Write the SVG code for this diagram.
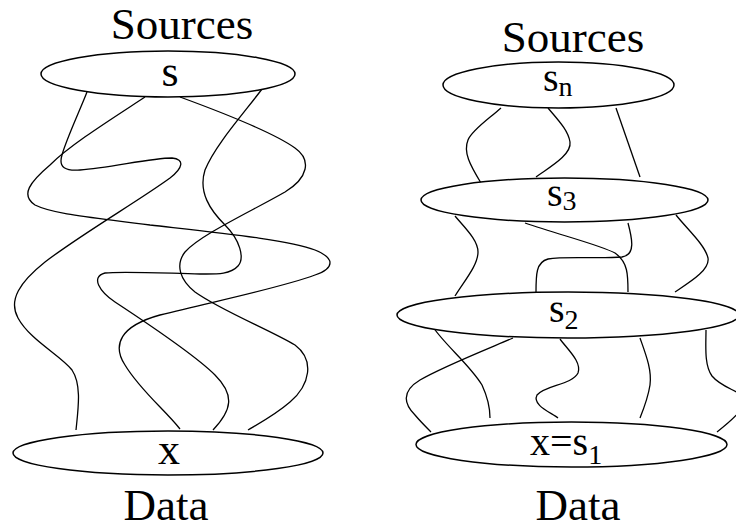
<svg xmlns="http://www.w3.org/2000/svg" width="736" height="527" viewBox="0 0 736 527">
<style>
.node{fill:#fff;stroke:#000;stroke-width:1.5}
.wire{fill:none;stroke:#000;stroke-width:1.3}
.t{font-family:"Liberation Serif","Times New Roman",serif;fill:#000}
.big{font-size:45px}
.lab{font-size:44px}
.rl{font-size:40px}
.sub{font-size:28px}
</style>
<rect width="736" height="527" fill="#fff"/>
<g id="connectors">
<path class="wire" d="M87,92 C80,110 66,140 62,155 C58,168 66,171 80,170 C110,168 150,158 172,158 C185,159 183,168 170,178 C140,200 80,235 45,262 C20,282 8,300 18,318 C30,340 60,355 72,370 C82,385 78,410 76,430"/>
<path class="wire" d="M145,97 C110,120 70,145 50,165 C30,182 20,195 35,205 C55,215 100,218 150,225 C220,233 290,240 315,250 C335,258 335,268 315,275 C280,288 220,300 160,315 C120,326 112,345 125,365 C140,390 165,410 180,429"/>
<path class="wire" d="M180,97 C210,108 270,130 295,148 C312,160 308,178 285,192 C250,212 200,235 185,252 C175,265 180,280 195,292 C220,310 270,330 295,345 C315,360 310,385 290,402 C275,415 258,424 248,430"/>
<path class="wire" d="M262,89 C245,112 215,145 205,170 C198,192 210,210 225,225 C240,240 245,258 238,266 C230,275 215,274 200,274 C160,273 120,271 105,273 C90,277 100,292 115,302 C150,325 195,355 215,375 C235,395 232,410 213,430"/>
<path class="wire" d="M501,108 C490,118 472,130 468,140 C463,152 470,165 481,183"/>
<path class="wire" d="M548,108 C558,120 568,130 570,142 C572,155 548,168 536,177"/>
<path class="wire" d="M616,108 L640,177"/>
<path class="wire" d="M455,216 C465,228 478,240 478,252 C478,265 465,280 455,296"/>
<path class="wire" d="M525,223 C560,235 600,245 615,253 C628,262 628,275 628,292"/>
<path class="wire" d="M628,223 C632,238 636,255 622,257 C600,259 565,256 548,259 C536,262 536,275 536,292"/>
<path class="wire" d="M676,215 C688,230 705,245 708,258 C710,270 690,282 675,292"/>
<path class="wire" d="M433,327 C445,345 470,365 482,385 C488,398 490,410 490,418"/>
<path class="wire" d="M513,338 C480,352 440,368 420,380 C400,392 405,405 415,415 C420,421 427,428 431,432"/>
<path class="wire" d="M560,339 C568,350 582,362 578,373 C572,385 545,385 537,395 C532,405 550,412 558,418"/>
<path class="wire" d="M640,338 C646,355 652,370 650,385 C648,398 644,408 640,418"/>
<path class="wire" d="M706,330 C706,345 704,365 712,376 C722,388 738,390 745,398 C748,405 735,418 717,432"/>
</g>
<g id="title-left"><text class="t big" x="182" y="39" text-anchor="middle">Sources</text></g>
<g id="node-s"><ellipse class="node" cx="168" cy="74" rx="127" ry="23"/><text class="t lab" x="170" y="86" text-anchor="middle">s</text></g>
<g id="node-x"><ellipse class="node" cx="168" cy="453" rx="155" ry="22"/><text class="t lab" x="169" y="464" text-anchor="middle">x</text></g>
<g id="label-data-left"><text class="t big" x="166" y="520" text-anchor="middle">Data</text></g>
<g id="title-right"><text class="t big" x="573" y="52" text-anchor="middle">Sources</text></g>
<g id="node-sn"><ellipse class="node" cx="558.5" cy="85" rx="115.5" ry="23"/><text class="t rl" x="543" y="91">s<tspan class="sub" dy="5">n</tspan></text></g>
<g id="node-s3"><ellipse class="node" cx="564.5" cy="200" rx="143.5" ry="22"/><text class="t rl" x="547" y="206">s<tspan class="sub" dy="4">3</tspan></text></g>
<g id="node-s2"><ellipse class="node" cx="568" cy="315" rx="171" ry="23"/><text class="t rl" x="549" y="322">s<tspan class="sub" dy="7">2</tspan></text></g>
<g id="node-s1"><ellipse class="node" cx="571.5" cy="444.5" rx="155.5" ry="22.5"/><text class="t rl" x="530" y="455">x=s<tspan class="sub" dy="9">1</tspan></text></g>
<g id="label-data-right"><text class="t big" x="578" y="520" text-anchor="middle">Data</text></g>
</svg>
